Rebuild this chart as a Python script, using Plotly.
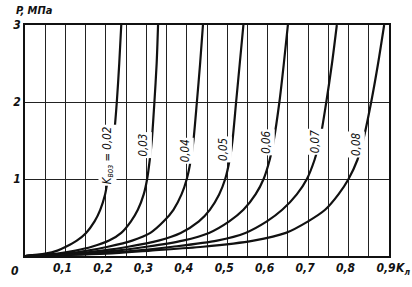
import plotly.graph_objects as go

# Pressure levels (MPa) at which each curve's K_л value was read
P_levels = [0, 0.03, 0.07, 0.12, 0.2, 0.3, 0.45, 0.6, 0.8, 1.0, 1.25, 1.5, 2.0, 2.5, 3.0]

# K_л values for each K_воз curve, at the pressure levels above
k002 = [0, 0.050, 0.080, 0.101, 0.128, 0.151, 0.172, 0.186, 0.198, 0.205, 0.213, 0.219, 0.227, 0.233, 0.238]
k003 = [0, 0.080, 0.125, 0.165, 0.208, 0.238, 0.262, 0.279, 0.2935, 0.302, 0.3085, 0.3135, 0.3200, 0.3255, 0.329]
k004 = [0, 0.100, 0.155, 0.205, 0.265, 0.310, 0.343, 0.367, 0.387, 0.400, 0.410, 0.4165, 0.425, 0.433, 0.440]
k005 = [0, 0.120, 0.190, 0.255, 0.330, 0.385, 0.430, 0.457, 0.480, 0.495, 0.506, 0.513, 0.522, 0.531, 0.540]
k006 = [0, 0.145, 0.225, 0.300, 0.390, 0.455, 0.505, 0.540, 0.570, 0.590, 0.605, 0.615, 0.629, 0.640, 0.650]
k007 = [0, 0.170, 0.275, 0.365, 0.475, 0.545, 0.598, 0.636, 0.672, 0.697, 0.716, 0.729, 0.745, 0.759, 0.771]
k008 = [0, 0.200, 0.310, 0.440, 0.565, 0.645, 0.700, 0.742, 0.775, 0.800, 0.822, 0.836, 0.856, 0.873, 0.888]

curves = [k002, k003, k004, k005, k006, k007, k008]

# Curve labels: text, x (K_л), y (P)
label_texts = ["<i>K<sub>воз</sub> = 0,02</i>", "<i>0,03</i>", "<i>0,04</i>", "<i>0,05</i>",
               "<i>0,06</i>", "<i>0,07</i>", "<i>0,08</i>"]
label_x = [0.203, 0.293, 0.395, 0.490, 0.596, 0.717, 0.820]
label_y = [1.31, 1.44, 1.37, 1.38, 1.47, 1.49, 1.45]

x_tick_vals = [0.1, 0.2, 0.3, 0.4, 0.5, 0.6, 0.7, 0.8, 0.9]
x_tick_text = ["0,1", "0,2", "0,3", "0,4", "0,5", "0,6", "0,7", "0,8", "0,9"]
y_tick_vals = [1, 2, 3]
y_tick_text = ["1", "2", "3"]

FONT = "Liberation Sans Narrow, DejaVu Sans Condensed, sans-serif"

fig = go.Figure()
for xs in curves:
    fig.add_trace(go.Scatter(
        x=xs, y=P_levels, mode="lines",
        line=dict(color="#111111", width=2.2, shape="spline", smoothing=0.8),
        showlegend=False, hoverinfo="skip", cliponaxis=True,
    ))

for t, lx, ly in zip(label_texts, label_x, label_y):
    fig.add_annotation(x=lx, y=ly, text=t, textangle=-90, showarrow=False,
                       font=dict(family=FONT, size=11.5, color="#111"),
                       bgcolor="white", borderpad=1)

fig.add_annotation(xref="paper", yref="paper", x=-0.011, y=-0.025, text="<i><b>0</b></i>",
                   showarrow=False, xanchor="right", yanchor="top",
                   font=dict(family=FONT, size=12, color="#111"))
fig.add_annotation(xref="paper", yref="paper", x=1.014, y=-0.012, text="<i><b>K<sub>л</sub></b></i>",
                   showarrow=False, xanchor="left", yanchor="top",
                   font=dict(family=FONT, size=12, color="#111"))
fig.add_annotation(xref="paper", yref="paper", x=-0.03, y=1.025, text="<i><b>P, МПа</b></i>",
                   showarrow=False, xanchor="left", yanchor="bottom",
                   font=dict(family=FONT, size=11, color="#111"))

fig.update_xaxes(
    range=[0, 0.9], tickvals=x_tick_vals,
    ticktext=["<i><b>%s</b></i>" % t for t in x_tick_text],
    showgrid=True, gridcolor="#222", gridwidth=1,
    minor=dict(dtick=0.05, tick0=0, showgrid=True, gridcolor="#222", gridwidth=1),
    showline=True, linecolor="#111", linewidth=1.5, mirror=True,
    ticks="", zeroline=False, ticklabelshift=-3,
    tickfont=dict(family=FONT, size=12, color="#111"),
)
fig.update_yaxes(
    range=[0, 3], tickvals=y_tick_vals,
    ticktext=["<i><b>%s</b></i>" % t for t in y_tick_text],
    showgrid=True, gridcolor="#222", gridwidth=1,
    showline=True, linecolor="#111", linewidth=1.5, mirror=True,
    ticks="", zeroline=False,
    tickfont=dict(family=FONT, size=12, color="#111"),
)
fig.update_layout(
    width=412, height=287,
    margin=dict(l=25, r=23, t=25, b=26),
    paper_bgcolor="white", plot_bgcolor="white",
)
fig.write_html("out.html")
